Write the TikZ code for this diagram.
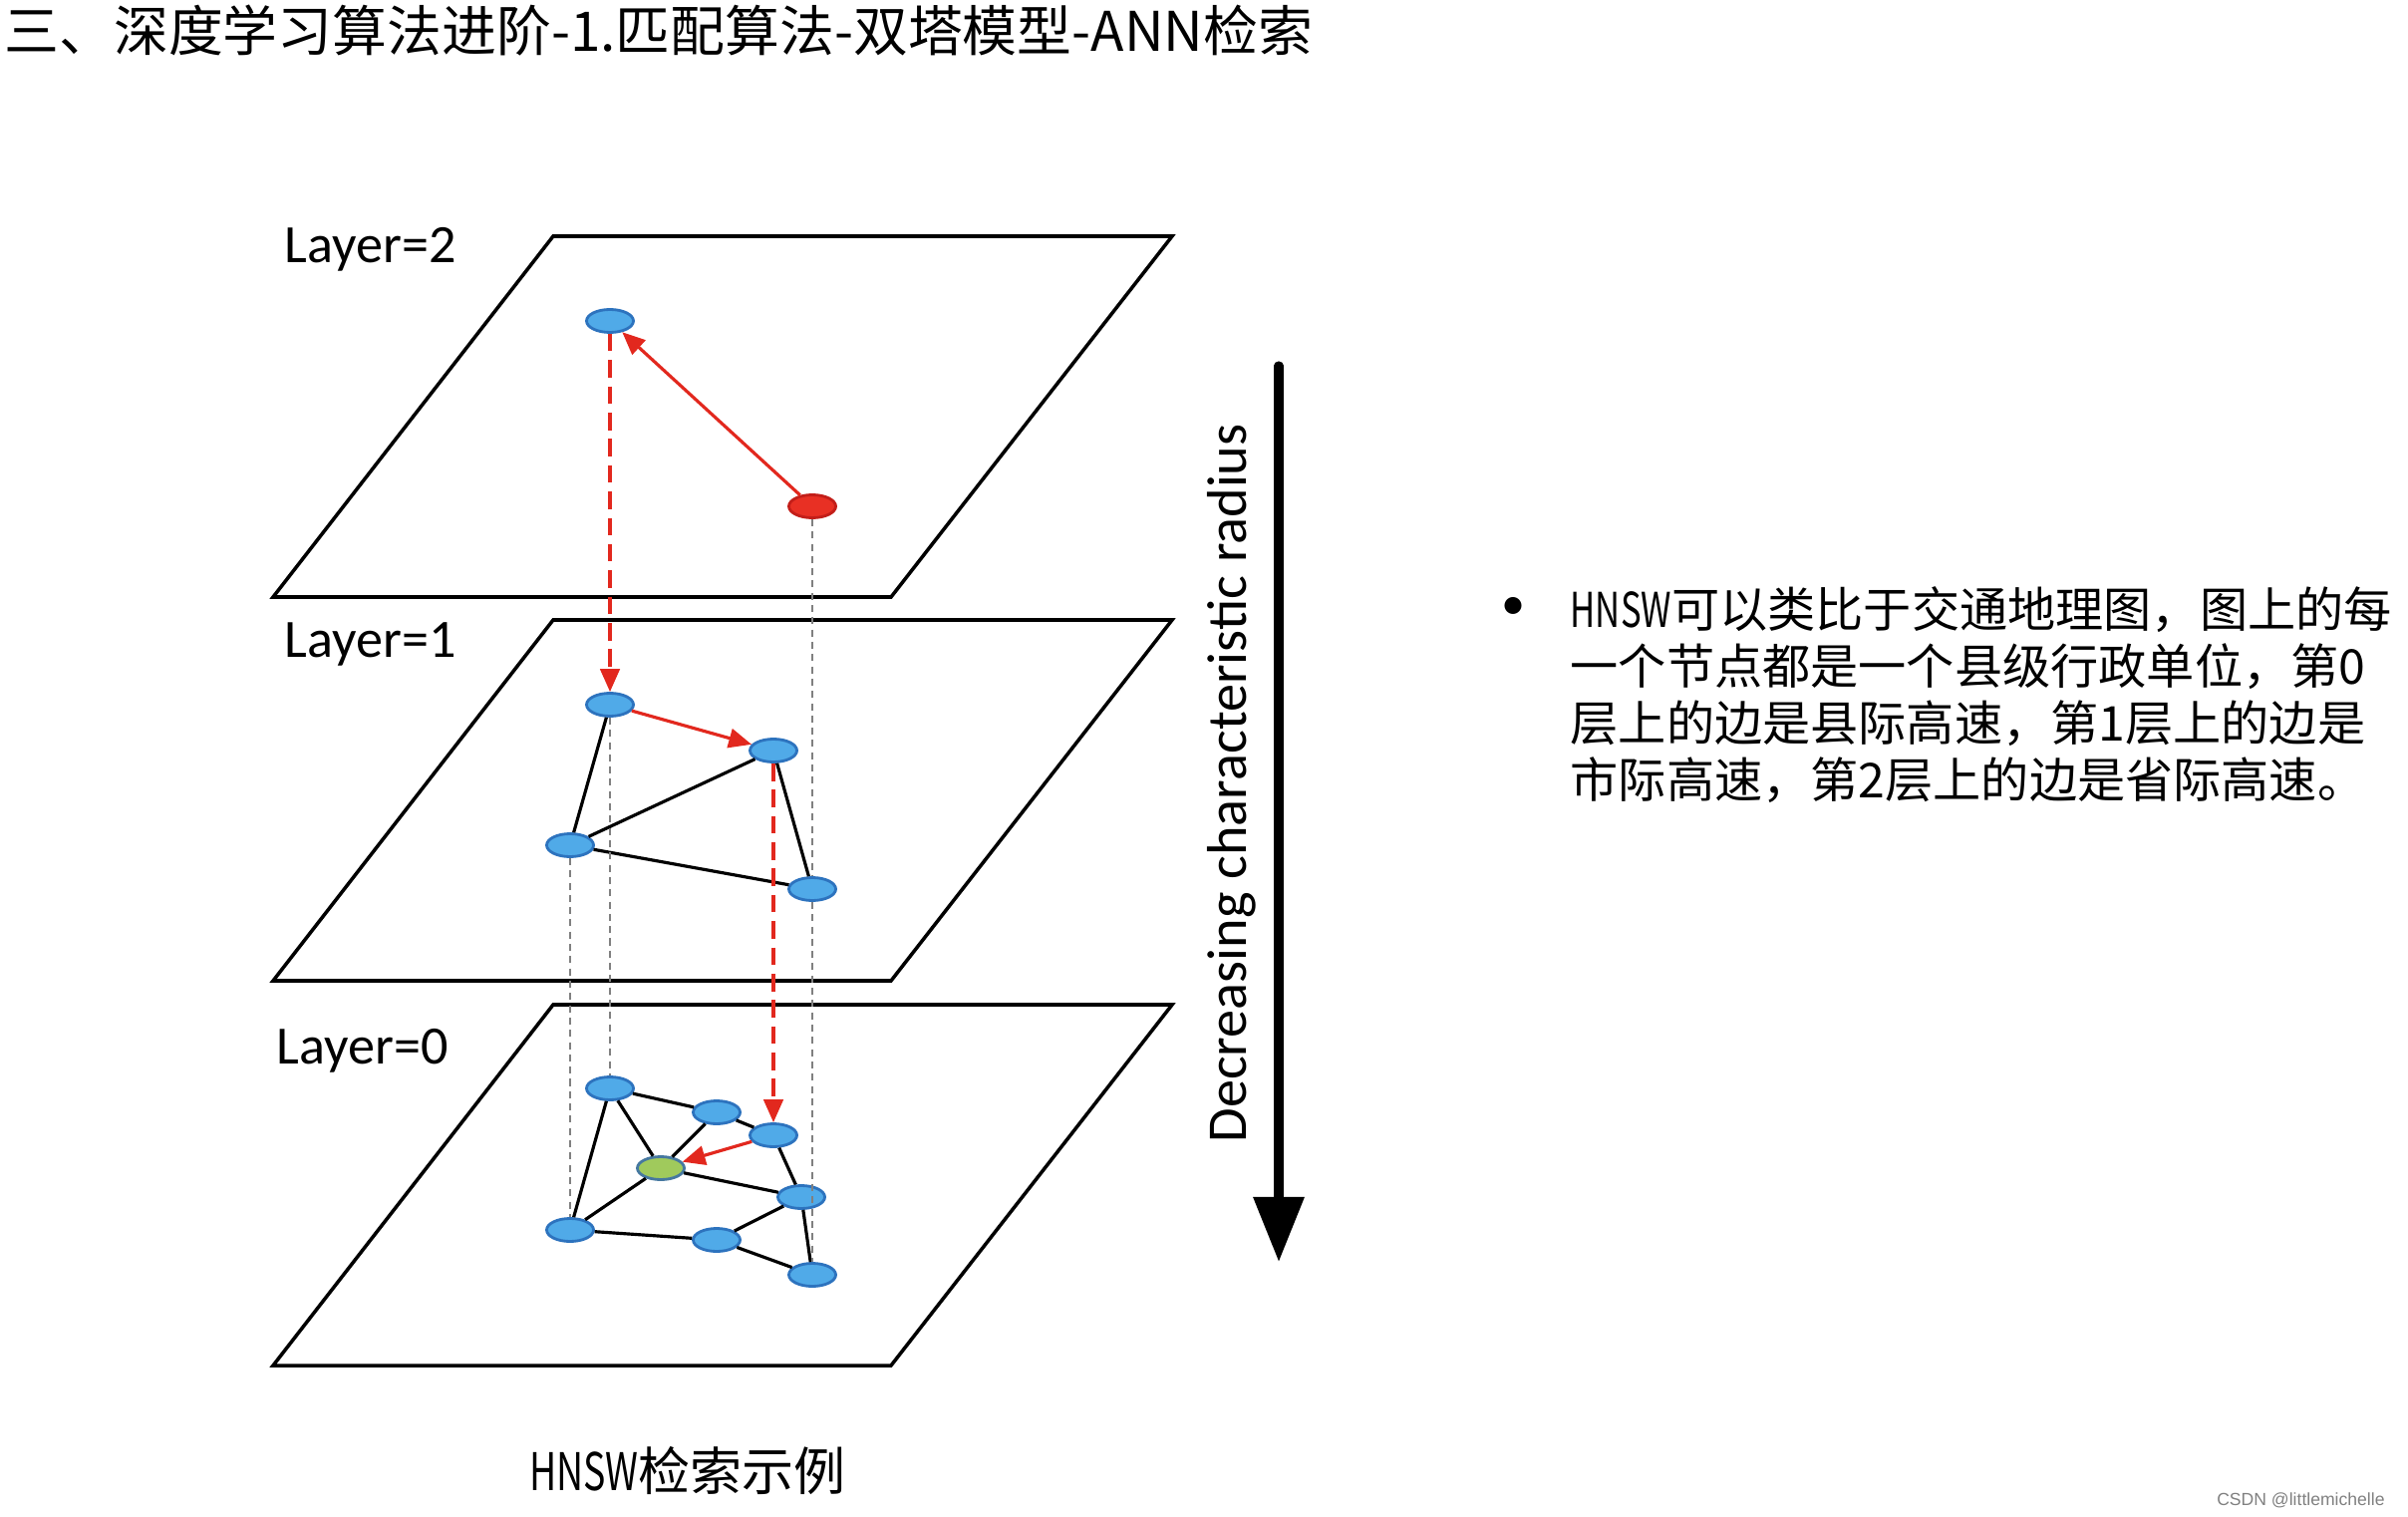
\documentclass[tikz,border=0pt]{standalone}
\usepackage{fontspec}
\setmainfont{Carlito}
\newfontfamily\cjk{Noto Sans CJK SC}
\newfontfamily\markfont{Liberation Sans}
\usetikzlibrary{shapes.geometric}
\usetikzlibrary{arrows.meta}

\definecolor{vblue}{RGB}{80,170,232}
\definecolor{vblueedge}{RGB}{45,115,190}
\definecolor{vred}{RGB}{232,48,36}
\definecolor{vrededge}{RGB}{195,30,25}
\definecolor{vgreen}{RGB}{160,202,92}
\definecolor{vgreenedge}{RGB}{70,120,160}
\definecolor{hopred}{RGB}{226,40,30}

\newcommand{\hnswword}{\scalebox{0.72}[1]{HNSW}}

\begin{document}
\begin{tikzpicture}[x=0.01cm,y=-0.01cm,
        vtx/.style={ellipse,draw=vblueedge,fill=vblue,line width=0.8pt,
            minimum width=0.47cm,minimum height=0.23cm,inner sep=0pt},
        link/.style={line width=0.9pt},
        hop/.style={draw=hopred,line width=0.9pt,-{Triangle[length=6.5pt,width=5.5pt]}},
        drop/.style={hop,dash pattern=on 5pt off 2.5pt},
        proj/.style={draw=gray,line width=0.5pt,dash pattern=on 2pt off 1.5pt},
        plane/.style={line width=1pt},
        layerlbl/.style={anchor=west,inner sep=0pt,font=\fontsize{15.4pt}{18pt}\selectfont}]

        \useasboundingbox (0,0) rectangle (2416,1522);

        % Titolo
        \node[anchor=west,font=\cjk\fontsize{15.6pt}{18pt}\selectfont] (title) at (-8,31)
            {三、深度学习算法进阶-1.匹配算法-双塔模型-ANN检索};

        % Layer=2
        \begin{scope}
            \draw[plane] (555,237) -- (1176,237) -- (894,599) -- (274,599) -- cycle;
            \node[layerlbl] (lbl2) at (285,250) {Layer=2};

            \node[vtx] (a2) at (612,322) {};
            \node[vtx,draw=vrededge,fill=vred] (q2) at (815,508) {};

            \draw[hop] (q2) -- (a2);
        \end{scope}

        % Layer=1
        \begin{scope}[shift={(0,385)}]
            \draw[plane] (555,237) -- (1176,237) -- (894,599) -- (274,599) -- cycle;
            \node[layerlbl] (lbl1) at (285,261) {Layer=1};

            \node[vtx] (a1) at (612,322) {};
            \node[vtx] (b1) at (776,368) {};
            \node[vtx] (c1) at (572,463) {};
            \node[vtx] (d1) at (815,507) {};

            \draw[link] (a1) -- (c1);
            \draw[link] (c1) -- (b1);
            \draw[link] (c1) -- (d1);
            \draw[link] (b1) -- (d1);
            \draw[hop] (a1) -- (b1);
        \end{scope}

        % Layer=0
        \begin{scope}[shift={(0,771)}]
            \draw[plane] (555,237) -- (1176,237) -- (894,599) -- (274,599) -- cycle;
            \node[layerlbl] (lbl0) at (277,283) {Layer=0};

            \node[vtx] (a0) at (612,321) {};
            \node[vtx] (b0) at (719,345) {};
            \node[vtx] (c0) at (776,368) {};
            \node[vtx,draw=vgreenedge,fill=vgreen] (g0) at (663,401) {};
            \node[vtx] (d0) at (804,430) {};
            \node[vtx] (e0) at (572,463) {};
            \node[vtx] (f0) at (719,473) {};
            \node[vtx] (h0) at (815,508) {};

            \draw[link] (a0) -- (b0) -- (c0);
            \draw[link] (a0) -- (g0);
            \draw[link] (a0) -- (e0);
            \draw[link] (b0) -- (g0);
            \draw[link] (g0) -- (e0);
            \draw[link] (g0) -- (d0);
            \draw[link] (c0) -- (d0);
            \draw[link] (d0) -- (f0);
            \draw[link] (e0) -- (f0);
            \draw[link] (f0) -- (h0);
            \draw[link] (d0) -- (h0);
            \draw[hop] (c0) -- (g0);
        \end{scope}

        % tra i livelli
        \draw[drop] (a2) -- (a1);
        \draw[drop] (b1) -- (c0);
        \draw[proj] (q2) -- (d1);
        \draw[proj] (d1) -- (h0);
        \draw[proj] (a1) -- (a0);
        \draw[proj] (c1) -- (e0);

        % freccia
        \coordinate (arrtop) at (1283,367);
        \coordinate (arrbot) at (1283,1266);
        \draw[line width=2.6pt,line cap=round,-{Triangle[length=18.5pt,width=14pt]}] (arrtop) -- (arrbot);
        \node[rotate=90,font=\fontsize{16pt}{18pt}\selectfont] (radius) at (1236,786)
            {Decreasing characteristic radius};

        % testo
        \node[font=\fontsize{13.7pt}{16pt}\selectfont] (dot) at (1518,610) {•};
        \node[anchor=north west,align=left,inner sep=0pt,
            font=\cjk\fontsize{13.7pt}{16.2pt}\selectfont] (desc) at (1575,588)
            {\hnswword 可以类比于交通地理图，图上的每\\
             一个节点都是一个县级行政单位，第0\\
             层上的边是县际高速，第1层上的边是\\
             市际高速，第2层上的边是省际高速。};

        \node[font=\cjk\fontsize{14.8pt}{17pt}\selectfont] (caption) at (690,1476) {\hnswword 检索示例};
        \node[anchor=east,text=gray,font=\markfont\fontsize{5pt}{6pt}\selectfont] (mark) at (2405,1505)
            {CSDN @littlemichelle};
    \end{tikzpicture}
\end{document}
